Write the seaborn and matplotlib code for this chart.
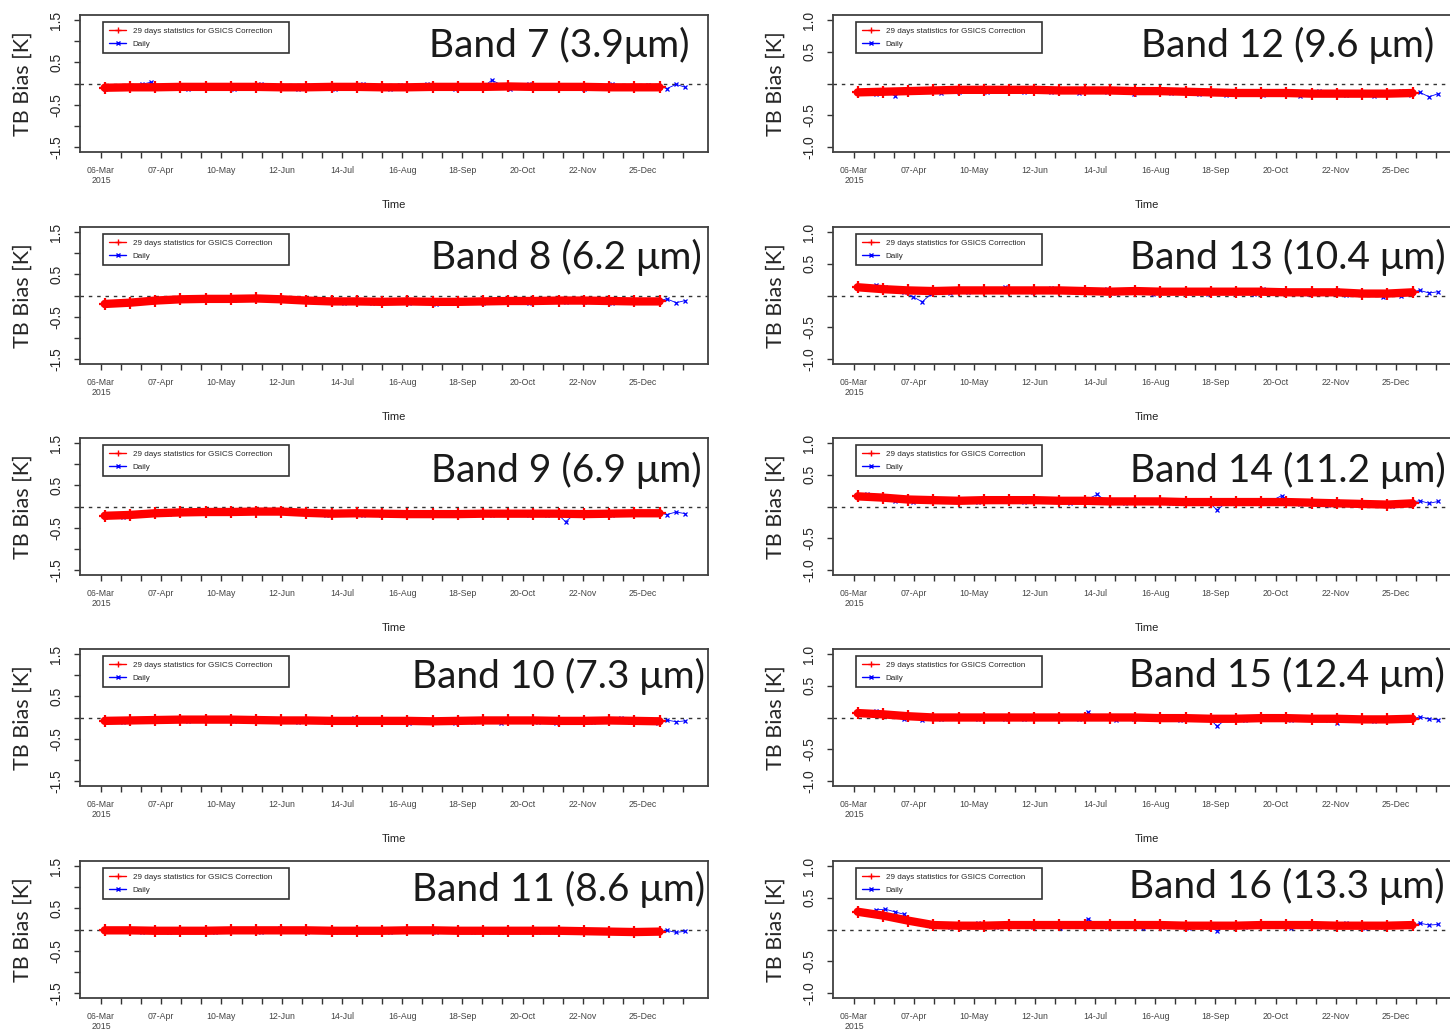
# -*- coding: utf-8 -*-
"""
GSICS correction TB bias, Bands 7-16, 2015
"""

import pandas as pd
import seaborn as sns
import matplotlib.pyplot as plt
import matplotlib.dates as mdates
from matplotlib.lines import Line2D

#%% data ---------------------------------------------------

band_titles = ["Band 7 (3.9μm)", "Band 8 (6.2 μm)", "Band 9 (6.9 μm)",
               "Band 10 (7.3 μm)", "Band 11 (8.6 μm)",
               "Band 12 (9.6 μm)", "Band 13 (10.4 μm)", "Band 14 (11.2 μm)",
               "Band 15 (12.4 μm)", "Band 16 (13.3 μm)"]

tick_labels = ["06-Mar\n2015", "07-Apr", "10-May", "12-Jun", "14-Jul",
               "16-Aug", "18-Sep", "20-Oct", "22-Nov", "25-Dec"]

legend_labels = ["29 days statistics for GSICS Correction", "Daily"]

# 29 day statistics (23 points, 08-Mar-2015 .. 03-Jan-2016)
corr_dates = pd.date_range("2015-03-08", "2016-01-03", periods=23)
# daily (every 5th day shown, 08-Mar-2015 .. 17-Jan-2016)
daily_dates = pd.date_range("2015-03-08", "2016-01-17", freq="5D")

corr_b07 = [-0.10, -0.09, -0.09, -0.08, -0.08, -0.08, -0.08, -0.09,
            -0.09, -0.08, -0.08, -0.09, -0.09, -0.08, -0.08, -0.08,
            -0.07, -0.08, -0.08, -0.08, -0.09, -0.09, -0.09]
corr_b08 = [-0.20, -0.17, -0.12, -0.09, -0.08, -0.08, -0.07, -0.09,
            -0.12, -0.14, -0.14, -0.15, -0.14, -0.15, -0.15, -0.14,
            -0.13, -0.13, -0.12, -0.12, -0.13, -0.14, -0.14]
corr_b09 = [-0.22, -0.20, -0.16, -0.14, -0.13, -0.13, -0.12, -0.12,
            -0.15, -0.17, -0.16, -0.17, -0.18, -0.18, -0.18, -0.17,
            -0.17, -0.17, -0.17, -0.18, -0.17, -0.16, -0.16]
corr_b10 = [-0.08, -0.07, -0.06, -0.05, -0.05, -0.05, -0.06, -0.07,
            -0.07, -0.08, -0.08, -0.08, -0.08, -0.09, -0.08, -0.07,
            -0.07, -0.07, -0.08, -0.08, -0.07, -0.08, -0.09]
corr_b11 = [-0.02, -0.02, -0.03, -0.03, -0.03, -0.02, -0.02, -0.02,
            -0.02, -0.03, -0.03, -0.03, -0.02, -0.02, -0.03, -0.03,
            -0.03, -0.03, -0.03, -0.04, -0.05, -0.06, -0.05]
corr_b12 = [-0.14, -0.13, -0.12, -0.11, -0.10, -0.10, -0.10, -0.10,
            -0.11, -0.11, -0.11, -0.12, -0.12, -0.13, -0.14, -0.15,
            -0.15, -0.15, -0.16, -0.16, -0.16, -0.16, -0.15]
corr_b13 = [0.13, 0.10, 0.08, 0.07, 0.08, 0.08, 0.08, 0.08,
            0.08, 0.07, 0.06, 0.07, 0.06, 0.06, 0.06, 0.06,
            0.06, 0.05, 0.05, 0.05, 0.03, 0.03, 0.05]
corr_b14 = [0.16, 0.14, 0.11, 0.10, 0.09, 0.10, 0.10, 0.10,
            0.09, 0.09, 0.08, 0.08, 0.08, 0.07, 0.07, 0.07,
            0.07, 0.07, 0.06, 0.05, 0.04, 0.03, 0.05]
corr_b15 = [0.07, 0.05, 0.02, 0.00, 0.00, 0.00, 0.00, 0.00,
            0.00, 0.00, 0.00, 0.00, -0.01, -0.01, -0.02, -0.02,
            -0.01, -0.01, -0.02, -0.02, -0.03, -0.03, -0.02]
corr_b16 = [0.28, 0.22, 0.14, 0.07, 0.06, 0.06, 0.07, 0.07,
            0.07, 0.07, 0.07, 0.07, 0.07, 0.06, 0.06, 0.06,
            0.07, 0.07, 0.07, 0.06, 0.06, 0.06, 0.07]

daily_b07 = [-0.12, -0.05, -0.08, -0.11, -0.02, 0.03, -0.06, -0.10, -0.04, -0.13, -0.07, -0.03, -0.10, -0.06, -0.12, -0.04,
             -0.08, -0.02, -0.11, -0.07, -0.05, -0.12, -0.03, -0.09, -0.06, -0.13, -0.04, -0.08, -0.01, -0.10, -0.06, -0.12,
             -0.03, -0.07, -0.11, -0.02, -0.09, -0.05, -0.13, -0.04, -0.08, -0.10, 0.08, -0.03, -0.12, -0.06, -0.01, -0.09,
             -0.05, -0.11, -0.03, -0.07, -0.12, -0.04, -0.08, -0.02, -0.10, -0.06, -0.11, -0.03, -0.05, -0.12, -0.02, -0.09]
daily_b08 = [-0.22, -0.18, -0.21, -0.15, -0.12, -0.16, -0.09, -0.05, -0.10, -0.06, -0.11, -0.04, -0.09, -0.06, -0.10, -0.05,
             -0.08, -0.04, -0.10, -0.07, -0.11, -0.06, -0.13, -0.10, -0.15, -0.11, -0.17, -0.12, -0.15, -0.18, -0.11, -0.16,
             -0.13, -0.18, -0.12, -0.16, -0.19, -0.13, -0.17, -0.11, -0.15, -0.18, -0.12, -0.15, -0.10, -0.14, -0.17, -0.11,
             -0.13, -0.09, -0.15, -0.12, -0.16, -0.10, -0.13, -0.17, -0.11, -0.15, -0.12, -0.16, -0.13, -0.08, -0.17, -0.12]
daily_b09 = [-0.24, -0.20, -0.25, -0.18, -0.21, -0.15, -0.12, -0.17, -0.10, -0.14, -0.11, -0.15, -0.09, -0.13, -0.10, -0.14,
             -0.11, -0.09, -0.13, -0.10, -0.14, -0.12, -0.16, -0.13, -0.19, -0.15, -0.18, -0.14, -0.20, -0.16, -0.19, -0.15,
             -0.18, -0.21, -0.16, -0.19, -0.15, -0.20, -0.17, -0.14, -0.19, -0.16, -0.20, -0.15, -0.18, -0.14, -0.19, -0.16,
             -0.20, -0.15, -0.36, -0.18, -0.14, -0.19, -0.16, -0.20, -0.15, -0.18, -0.13, -0.17, -0.15, -0.19, -0.13, -0.17]
daily_b10 = [-0.09, -0.05, -0.10, -0.04, -0.07, -0.03, -0.08, -0.02, -0.06, -0.09, -0.03, -0.07, -0.01, -0.05, -0.08, -0.03,
             -0.06, -0.09, -0.04, -0.08, -0.05, -0.10, -0.03, -0.07, -0.11, -0.05, -0.09, -0.02, -0.08, -0.11, -0.05, -0.09,
             -0.06, -0.12, -0.04, -0.08, -0.10, -0.05, -0.14, -0.07, -0.10, -0.04, -0.09, -0.12, -0.06, -0.08, -0.03, -0.10,
             -0.07, -0.12, -0.05, -0.09, -0.06, -0.11, -0.04, -0.08, -0.01, -0.10, -0.06, -0.09, -0.12, -0.06, -0.10, -0.08]
daily_b11 = [-0.03, 0.00, -0.04, -0.01, -0.05, 0.01, -0.03, -0.06, -0.01, -0.04, 0.02, -0.03, -0.05, 0.00, -0.04, -0.02,
             0.01, -0.05, -0.02, 0.03, -0.04, -0.01, -0.06, 0.00, -0.03, -0.05, 0.02, -0.02, -0.04, 0.00, -0.03, -0.06,
             -0.01, -0.04, 0.01, -0.03, -0.05, -0.02, 0.00, -0.04, -0.06, -0.01, -0.03, -0.05, 0.01, -0.02, -0.04, -0.06,
             -0.02, -0.05, 0.00, -0.03, -0.06, -0.02, -0.04, -0.07, -0.03, -0.05, -0.08, -0.04, -0.06, -0.02, -0.07, -0.04]
daily_b12 = [-0.15, -0.11, -0.17, -0.13, -0.19, -0.10, -0.14, -0.08, -0.12, -0.15, -0.09, -0.13, -0.07, -0.11, -0.14, -0.08,
             -0.12, -0.09, -0.13, -0.07, -0.11, -0.14, -0.09, -0.12, -0.15, -0.08, -0.11, -0.14, -0.10, -0.13, -0.16, -0.09,
             -0.13, -0.10, -0.15, -0.11, -0.14, -0.17, -0.12, -0.15, -0.18, -0.13, -0.16, -0.12, -0.18, -0.14, -0.17, -0.13,
             -0.19, -0.15, -0.12, -0.17, -0.14, -0.18, -0.13, -0.16, -0.19, -0.14, -0.17, -0.12, -0.18, -0.14, -0.21, -0.16]
daily_b13 = [0.15, 0.12, 0.17, 0.13, 0.09, 0.05, -0.02, -0.10, 0.03, 0.07, 0.04, 0.09, 0.06, 0.11, 0.07, 0.10,
             0.13, 0.08, 0.11, 0.06, 0.09, 0.12, 0.07, 0.10, 0.05, 0.09, 0.06, 0.11, 0.04, 0.08, 0.05, 0.07,
             0.03, 0.08, 0.05, 0.09, 0.04, 0.07, 0.02, 0.06, 0.09, 0.04, 0.07, 0.03, 0.10, 0.05, 0.08, 0.04,
             0.06, 0.02, 0.07, 0.04, 0.08, 0.01, 0.05, 0.02, 0.04, -0.02, 0.03, 0.00, 0.06, 0.08, 0.04, 0.06]
daily_b14 = [0.17, 0.19, 0.15, 0.13, 0.08, 0.11, 0.07, 0.10, 0.13, 0.08, 0.11, 0.09, 0.12, 0.07, 0.10, 0.13,
             0.08, 0.11, 0.07, 0.10, 0.12, 0.08, 0.11, 0.06, 0.09, 0.12, 0.19, 0.08, 0.10, 0.06, 0.09, 0.11,
             0.07, 0.10, 0.05, 0.08, 0.11, 0.06, 0.09, -0.06, 0.07, 0.10, 0.05, 0.08, 0.06, 0.10, 0.17, 0.07,
             0.04, 0.09, 0.06, 0.03, 0.08, 0.05, 0.02, 0.06, 0.03, 0.05, 0.01, 0.04, 0.07, 0.09, 0.05, 0.08]
daily_b15 = [0.09, 0.07, 0.11, 0.04, 0.02, -0.03, 0.01, -0.04, 0.02, -0.02, 0.03, -0.01, 0.02, -0.03, 0.01, 0.03,
             -0.02, 0.01, -0.03, 0.02, -0.01, 0.03, -0.02, 0.01, -0.03, 0.08, -0.01, 0.02, -0.04, 0.01, -0.02, 0.02,
             -0.03, 0.01, -0.02, -0.04, 0.00, -0.03, 0.01, -0.14, -0.02, 0.01, -0.04, -0.01, 0.02, -0.03, 0.00, -0.04,
             -0.01, -0.03, 0.01, -0.04, -0.09, -0.02, -0.04, -0.01, -0.05, -0.02, -0.04, -0.01, -0.03, 0.01, -0.02, -0.04]
daily_b16 = [0.29, 0.27, 0.31, 0.32, 0.28, 0.24, 0.13, 0.08, 0.05, 0.09, 0.04, 0.08, 0.05, 0.10, 0.06, 0.04,
             0.09, 0.05, 0.08, 0.04, 0.10, 0.06, 0.03, 0.08, 0.05, 0.17, 0.07, 0.04, 0.09, 0.05, 0.08, 0.03,
             0.07, 0.04, 0.09, 0.05, 0.03, 0.07, 0.04, -0.02, 0.06, 0.08, 0.04, 0.07, 0.10, 0.05, 0.08, 0.03,
             0.06, 0.09, 0.04, 0.08, 0.05, 0.10, 0.06, 0.03, 0.07, 0.04, 0.06, 0.09, 0.05, 0.10, 0.07, 0.08]

corr_all = [corr_b07, corr_b08, corr_b09, corr_b10, corr_b11,
            corr_b12, corr_b13, corr_b14, corr_b15, corr_b16]
daily_all = [daily_b07, daily_b08, daily_b09, daily_b10, daily_b11,
             daily_b12, daily_b13, daily_b14, daily_b15, daily_b16]

#%% style / layout -----------------------------------------

sns.set_style("ticks")
plt.rcParams['font.family'] = ['Liberation Sans', 'DejaVu Sans']
TITLE_FONT = ['Lato', 'DejaVu Sans']

W, H = 1450, 1034
AX_W, AX_H = 628, 137
COL_X = [80, 833]
ROW_Y = [15, 227, 438, 649, 861]

# right edge / vertical centre of each band title (axes fraction)
TITLE_X = [0.971, 0.990, 0.990, 0.995, 0.995,
           0.958, 0.976, 0.975, 0.974, 0.974]
TITLE_Y = [0.78, 0.775, 0.76, 0.80, 0.79,
           0.775, 0.78, 0.76, 0.81, 0.815]

# x axis: labelled every third tick, 06-Mar to 25-Dec = 294 days
t0 = mdates.date2num(pd.Timestamp("2015-03-06"))
step = 98 / 9
xticks = [t0 + step * k for k in range(30)]
xlabels = [tick_labels[k // 3] if k % 3 == 0 else "" for k in range(30)]


def draw_panel(ax, i, right_col, bottom_row):
    df_c = pd.DataFrame({"Time": corr_dates, "bias": corr_all[i]})
    df_d = pd.DataFrame({"Time": daily_dates, "bias": daily_all[i]})

    ax.axhline(0, color="#333333", lw=1.0, ls=(0, (2.5, 3.5)), zorder=1)
    sns.lineplot(data=df_d, x="Time", y="bias", ax=ax, color="#0000ff",
                 lw=0.6, marker="x", markersize=3.5, markeredgewidth=0.9,
                 markeredgecolor="#0000ff", zorder=2)
    sns.lineplot(data=df_c, x="Time", y="bias", ax=ax, color="#ff0000",
                 lw=6, marker="+", markersize=8, markeredgewidth=1.6,
                 markeredgecolor="#ff0000", solid_capstyle="round", zorder=3)

    ax.set_xlim(t0 - 11.4, t0 + 329.3)
    ax.set_xticks(xticks)
    ax.set_xticklabels(xlabels, fontsize=6.3, color="#444444")

    if right_col:
        ax.set_ylim(-1.08, 1.08)
        ax.set_yticks([-1, -0.5, 0, 0.5, 1])
        ax.set_yticklabels(["-1.0", "-0.5", "", "0.5", "1.0"])
    else:
        ax.set_ylim(-1.62, 1.62)
        ax.set_yticks([-1.5, -1, -0.5, 0, 0.5, 1, 1.5])
        ax.set_yticklabels(["-1.5", "", "-0.5", "", "0.5", "", "1.5"])

    ax.tick_params(axis="x", length=4, width=1, pad=6, color="#333333")
    ax.tick_params(axis="y", length=4, width=1, pad=8, labelrotation=90,
                   labelsize=10, color="#333333")
    for lab in ax.get_yticklabels():
        lab.set_va("center")

    for sp in ax.spines.values():
        sp.set_color("#404040")
        sp.set_linewidth(1.3)

    # bottom row "Time" falls below the page in the original
    ax.set_xlabel("" if bottom_row else "Time", fontsize=8, color="#222222")
    ax.xaxis.set_label_coords(0.5, -0.35)
    ax.set_ylabel("TB Bias [K]", fontsize=15.5, family=TITLE_FONT)
    ax.yaxis.set_label_coords(-0.076, 0.5)

    ax.text(TITLE_X[i], TITLE_Y[i], band_titles[i], transform=ax.transAxes,
            ha="right", va="center", fontsize=28, family=TITLE_FONT,
            color="#1a1a1a")

    handles = [Line2D([], [], color="#ff0000", lw=1, marker="+", markersize=5),
               Line2D([], [], color="#0000ff", lw=1, marker="x", markersize=3.5)]
    leg = ax.legend(handles, legend_labels, loc="upper left",
                    bbox_to_anchor=(23 / AX_W, 0, 186 / AX_W, 1 - 7 / AX_H),
                    mode="expand", fontsize=5.8, fancybox=False, framealpha=1,
                    borderpad=0.7, labelspacing=0.6, handlelength=2.2,
                    handletextpad=0.8, borderaxespad=0)
    leg.get_frame().set_edgecolor("#333333")
    leg.get_frame().set_linewidth(1.2)


#%% draw -------------------------------------------------

fig = plt.figure(figsize=(W / 100, H / 100), dpi=100)
for i in range(10):
    col, row = divmod(i, 5)
    x0, y0 = COL_X[col], ROW_Y[row]
    ax = fig.add_axes([x0 / W, 1 - (y0 + AX_H) / H, AX_W / W, AX_H / H])
    draw_panel(ax, i, col == 1, row == 4)

plt.savefig("out.png", dpi=100)
plt.close()
